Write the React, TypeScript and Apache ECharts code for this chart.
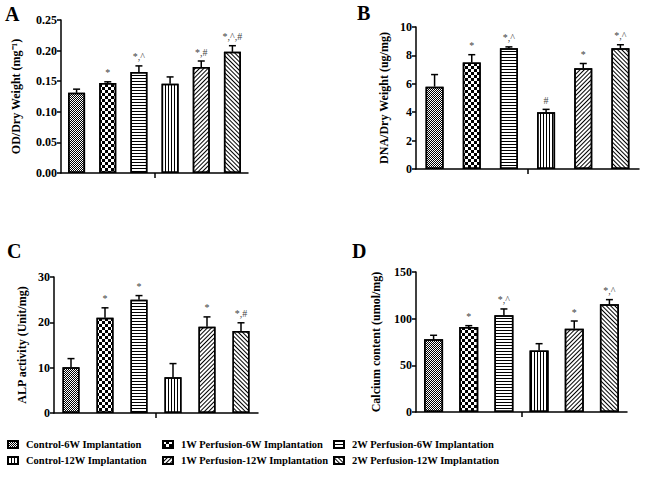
import React, { useEffect, useRef } from "react";
import * as echarts from "echarts";

const groups = [
  "Control-6W Implantation",
  "1W Perfusion-6W Implantation",
  "2W Perfusion-6W Implantation",
  "Control-12W Implantation",
  "1W Perfusion-12W Implantation",
  "2W Perfusion-12W Implantation",
];

const odValues = [0.131, 0.147, 0.165, 0.146, 0.173, 0.198];
const odErrors = [0.006, 0.002, 0.01, 0.011, 0.01, 0.01];
const odMarks = ["", "*", "*,^", "", "*,#", "*,^,#"];

const dnaValues = [5.8, 7.5, 8.5, 4.0, 7.1, 8.5];
const dnaErrors = [0.85, 0.55, 0.1, 0.2, 0.33, 0.25];
const dnaMarks = ["", "*", "*,^", "#", "*", "*,^"];

const alpValues = [10.1, 21.0, 25.0, 7.9, 19.0, 18.1];
const alpErrors = [1.9, 2.2, 0.9, 3.0, 2.2, 1.8];
const alpMarks = ["", "*", "*", "", "*", "*,#"];

const caValues = [77.9, 91.0, 103.6, 66.0, 89.3, 115.4];
const caErrors = [4.3, 1.5, 6.8, 7.2, 8.2, 5.0];
const caMarks = ["", "*", "*,^", "", "*", "*,^"];

const SERIF = "'Liberation Serif', 'Times New Roman', serif";

const decals: any[] = [
  { symbol: "rect", symbolSize: 1, dashArrayX: [[1, 1], [0, 1, 1, 0]], dashArrayY: [1, 0], color: "#000" },
  { symbol: "rect", symbolSize: 1, dashArrayX: [[3, 3], [0, 3, 3, 0]], dashArrayY: [3, 0], color: "#000" },
  { symbol: "rect", symbolSize: 1, dashArrayX: [1, 0], dashArrayY: [1, 2], color: "#000" },
  { symbol: "rect", symbolSize: 1, dashArrayX: [1, 2], dashArrayY: [1, 0], color: "#000" },
  { symbol: "rect", symbolSize: 1, dashArrayX: [1, 0], dashArrayY: [1, 2], rotation: -Math.PI / 4, color: "#000" },
  { symbol: "rect", symbolSize: 1, dashArrayX: [1, 0], dashArrayY: [1, 2], rotation: Math.PI / 4, color: "#000" },
];

type Panel = {
  label: string;
  values: number[];
  errors: number[];
  marks: string[];
  min: number;
  max: number;
  interval: number;
  digits: number;
  name: string;
  nameGap: number;
  grid: { left: number; top: number; width: number; height: number };
  barWidth: number;
  labelPos: { left: number; top: number };
};

const panels: Panel[] = [
  {
    label: "A", values: odValues, errors: odErrors, marks: odMarks,
    min: 0, max: 0.25, interval: 0.05, digits: 2,
    name: "OD/Dry Weight (mg\u207B\u00B9)", nameGap: 39,
    grid: { left: 61, top: 20, width: 187, height: 153 }, barWidth: 17,
    labelPos: { left: 5, top: 4 },
  },
  {
    label: "B", values: dnaValues, errors: dnaErrors, marks: dnaMarks,
    min: 0, max: 10, interval: 2, digits: 0,
    name: "DNA/Dry Weight (ug/mg)", nameGap: 26,
    grid: { left: 416, top: 27, width: 223, height: 142 }, barWidth: 18,
    labelPos: { left: 357, top: 3 },
  },
  {
    label: "C", values: alpValues, errors: alpErrors, marks: alpMarks,
    min: 0, max: 30, interval: 10, digits: 0,
    name: "ALP activity (Unit/mg)", nameGap: 26,
    grid: { left: 54, top: 277, width: 204, height: 136 }, barWidth: 17,
    labelPos: { left: 7, top: 241 },
  },
  {
    label: "D", values: caValues, errors: caErrors, marks: caMarks,
    min: 0, max: 150, interval: 50, digits: 0,
    name: "Calcium content (umol/mg)", nameGap: 34,
    grid: { left: 416, top: 272, width: 211, height: 140 }, barWidth: 19,
    labelPos: { left: 352, top: 241 },
  },
];

function buildOption() {
  const grid: any[] = [];
  const xAxis: any[] = [];
  const yAxis: any[] = [];
  const series: any[] = [];
  const title: any[] = [];

  panels.forEach((p, k) => {
    grid.push({ ...p.grid, containLabel: false });
    title.push({
      text: p.label,
      left: p.labelPos.left,
      top: p.labelPos.top,
      padding: 0,
      textStyle: { fontFamily: SERIF, fontWeight: "bold", fontSize: 20, color: "#000" },
    });
    xAxis.push({
      type: "category",
      gridIndex: k,
      data: groups,
      boundaryGap: true,
      axisLine: { show: true, lineStyle: { color: "#000", width: 1.5 } },
      axisTick: { show: false },
      axisLabel: { show: false },
      splitLine: { show: false },
    });
    xAxis.push({
      type: "value",
      gridIndex: k,
      min: 0,
      max: groups.length,
      position: "bottom",
      axisLine: { show: false },
      axisTick: { show: true, length: 5, customValues: [groups.length / 2], lineStyle: { color: "#000", width: 1.5 } },
      axisLabel: { show: false },
      splitLine: { show: false },
    });
    yAxis.push({
      type: "value",
      gridIndex: k,
      min: p.min,
      max: p.max,
      interval: p.interval,
      name: p.name,
      nameLocation: "middle",
      nameGap: p.nameGap,
      nameTextStyle: { fontFamily: SERIF, fontWeight: "bold", fontSize: 12, color: "#000" },
      axisLine: { show: true, lineStyle: { color: "#000", width: 1.5 } },
      axisTick: { show: true, length: 4, lineStyle: { color: "#000", width: 1.5 } },
      splitLine: { show: false },
      axisLabel: {
        color: "#000",
        fontFamily: SERIF,
        fontWeight: "bold",
        fontSize: 12,
        margin: 4,
        formatter: (v: number) => v.toFixed(p.digits),
      },
    });

    groups.forEach((g, i) => {
      series.push({
        type: "bar",
        name: g,
        xAxisIndex: k * 2,
        yAxisIndex: k,
        barWidth: p.barWidth,
        barGap: "-100%",
        data: p.values.map((v, j) => (j === i ? v : "-")),
        itemStyle: { color: "#fff", borderColor: "#000", borderWidth: 1.5, decal: decals[i] },
        emphasis: { disabled: true },
      });
    });

    const marks = p.marks;
    series.push({
      type: "custom",
      xAxisIndex: k * 2,
      yAxisIndex: k,
      data: p.values.map((v, i) => [i, v, v + p.errors[i]]),
      z: 10,
      renderItem: (params: any, api: any) => {
        const x = api.value(0);
        const lo = api.coord([x, api.value(1)]);
        const hi = api.coord([x, api.value(2)]);
        const cap = 3.5;
        return {
          type: "group",
          children: [
            { type: "line", shape: { x1: lo[0], y1: lo[1], x2: hi[0], y2: hi[1] }, style: { stroke: "#000", lineWidth: 1.5 } },
            { type: "line", shape: { x1: hi[0] - cap, y1: hi[1], x2: hi[0] + cap, y2: hi[1] }, style: { stroke: "#000", lineWidth: 1.5 } },
            {
              type: "text",
              style: {
                text: marks[params.dataIndex],
                x: hi[0],
                y: hi[1] - 4,
                align: "center",
                verticalAlign: "bottom",
                fontSize: 10,
                fontFamily: SERIF,
                fill: "#444",
              },
            },
          ],
        };
      },
    });
  });

  const legendBase = {
    orient: "vertical",
    top: 439,
    padding: 0,
    itemGap: 5,
    itemWidth: 10,
    itemHeight: 7,
    icon: "rect",
    selectedMode: false,
    textStyle: { fontFamily: SERIF, fontWeight: "bold", fontSize: 10.5, color: "#000", padding: [0, 0, 0, 3] },
  };
  const legend = [
    { ...legendBase, left: 7, data: [groups[0], groups[3]] },
    { ...legendBase, left: 162, data: [groups[1], groups[4]] },
    { ...legendBase, left: 333, data: [groups[2], groups[5]] },
  ];

  return {
    animation: false,
    backgroundColor: "#fff",
    title,
    grid,
    xAxis,
    yAxis,
    legend,
    series,
  };
}

export default function App() {
  const ref = useRef<HTMLDivElement>(null);
  useEffect(() => {
    if (!ref.current) return;
    const chart = echarts.init(ref.current, undefined, { renderer: "svg" });
    chart.setOption(buildOption() as any);
    return () => chart.dispose();
  }, []);
  return <div ref={ref} style={{ position: "fixed", left: 0, top: 0, width: 670, height: 478 }} />;
}
